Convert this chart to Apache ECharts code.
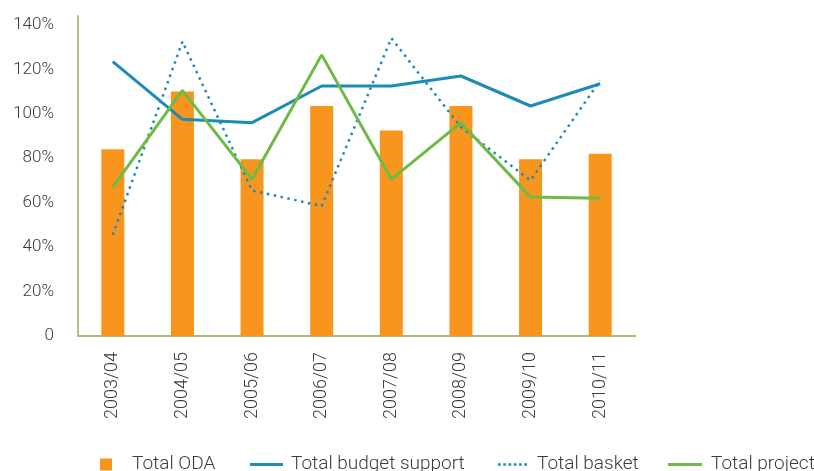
<!DOCTYPE html>
<html>
<head>
<meta charset="utf-8">
<script src="https://cdn.jsdelivr.net/npm/echarts@6/dist/echarts.min.js"></script>
<style>
  html, body { margin: 0; padding: 0; background: #fff; }
  #main { width: 814px; height: 471px; }
</style>
</head>
<body>
<div id="main"></div>
<script>
var years = ['2003/04', '2004/05', '2005/06', '2006/07', '2007/08', '2008/09', '2009/10', '2010/11'];
var totalOda = [84, 110, 79.5, 103.5, 92.5, 103.5, 79.5, 82];
var budgetSupport = [123.5, 97.5, 96, 112.5, 112.5, 117, 103.5, 113.5];
var basket = [45.5, 132.5, 65.5, 58.5, 134, 94, 70, 115];
var project = [67, 110.5, 70.5, 126.5, 70.5, 96, 62.5, 62];

var font = 'Roboto';
var textColor = '#3b3b3b';

// legend icons: plain bar for solid lines, row of dots for the basket line
var solidIcon = 'path://M0,0h34v3h-34z';
var dotIcon = 'path://M0,0h3v3h-3zM6,0h3v3h-3zM12,0h3v3h-3zM18,0h3v3h-3zM24,0h3v3h-3zM30,0h3v3h-3z';

var chart = echarts.init(document.getElementById('main'));

function legendAt(left, name, icon, w, gap) {
    return {
        left: left,
        top: 455,
        padding: 0,
        icon: icon,
        itemWidth: w,
        itemHeight: 12,
        data: [name],
        textStyle: {
            fontFamily: font,
            fontWeight: 300,
            fontSize: 19,
            color: textColor,
            padding: [0, 0, 0, gap]
        }
    };
}

chart.setOption({
    animation: false,
    grid: { left: 78, right: 179, top: 16, bottom: 135 },
    legend: [
        legendAt(100, 'Total ODA', 'rect', 12, 15),
        legendAt(250, 'Total budget support', solidIcon, 33, 3),
        legendAt(498, 'Total basket', dotIcon, 29, 5),
        legendAt(668, 'Total project', solidIcon, 34, 4)
    ],
    xAxis: {
        type: 'category',
        data: years,
        axisLine: { lineStyle: { color: '#a9b97a', width: 2 } },
        axisTick: { show: false },
        axisLabel: {
            rotate: 90,
            margin: 16,
            fontFamily: font,
            fontWeight: 300,
            fontSize: 18,
            color: textColor
        }
    },
    yAxis: {
        type: 'value',
        min: 0,
        max: 144,
        interval: 20,
        axisLine: { show: true, lineStyle: { color: '#bdbb8c', width: 2 } },
        axisTick: { show: false },
        splitLine: { show: false },
        axisLabel: {
            margin: 24,
            fontFamily: font,
            fontWeight: 300,
            fontSize: 17,
            color: textColor,
            formatter: function (v) {
                if (v % 20 !== 0) return '';
                return v === 0 ? '0' : v + '%';
            }
        }
    },
    series: [{
        name: 'Total ODA',
        type: 'bar',
        data: totalOda,
        barWidth: 23,
        itemStyle: { color: '#f7951f' }
    }, {
        name: 'Total budget support',
        type: 'line',
        data: budgetSupport,
        symbol: 'none',
        lineStyle: { color: '#1c8bb7', width: 3 },
        itemStyle: { color: '#1c8bb7' }
    }, {
        name: 'Total basket',
        type: 'line',
        data: basket,
        symbol: 'none',
        lineStyle: { color: '#1c8bb7', width: 2.5, type: [2.5, 4.5] },
        itemStyle: { color: '#1c8bb7' }
    }, {
        name: 'Total project',
        type: 'line',
        data: project,
        symbol: 'none',
        lineStyle: { color: '#6dbb45', width: 3 },
        itemStyle: { color: '#6dbb45' }
    }]
});
</script>
</body>
</html>
